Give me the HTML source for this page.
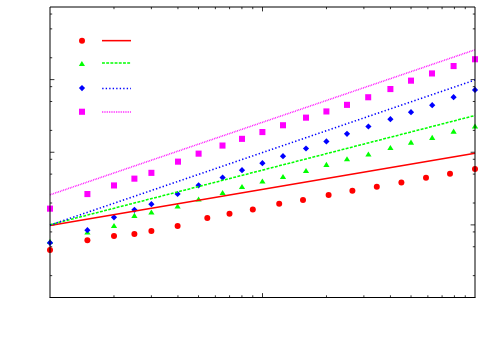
<!DOCTYPE html><html><head><meta charset="utf-8"><style>html,body{margin:0;padding:0;background:#fff;font-family:"Liberation Sans",sans-serif}svg{display:block}</style></head><body>
<svg width="500" height="350" viewBox="0 0 500 350">
<rect width="500" height="350" fill="#fff"/>
<path d="M113.97 297.5v-2.2M113.97 7.0v2.2M151.39 297.5v-2.2M151.39 7.0v2.2M177.94 297.5v-2.2M177.94 7.0v2.2M198.53 297.5v-2.2M198.53 7.0v2.2M215.36 297.5v-2.2M215.36 7.0v2.2M229.58 297.5v-2.2M229.58 7.0v2.2M241.91 297.5v-2.2M241.91 7.0v2.2M252.78 297.5v-2.2M252.78 7.0v2.2M262.50 297.5v-4.4M262.50 7.0v4.4M326.47 297.5v-2.2M326.47 7.0v2.2M363.89 297.5v-2.2M363.89 7.0v2.2M390.44 297.5v-2.2M390.44 7.0v2.2M411.03 297.5v-2.2M411.03 7.0v2.2M427.86 297.5v-2.2M427.86 7.0v2.2M442.08 297.5v-2.2M442.08 7.0v2.2M454.41 297.5v-2.2M454.41 7.0v2.2M465.28 297.5v-2.2M465.28 7.0v2.2M50.0 275.64h2.2M475.0 275.64h-2.2M50.0 246.74h2.2M475.0 246.74h-2.2M50.0 231.91h2.2M475.0 231.91h-2.2M50.0 224.88h4.4M475.0 224.88h-4.4M50.0 203.01h2.2M475.0 203.01h-2.2M50.0 174.11h2.2M475.0 174.11h-2.2M50.0 159.29h2.2M475.0 159.29h-2.2M50.0 152.25h4.4M475.0 152.25h-4.4M50.0 130.39h2.2M475.0 130.39h-2.2M50.0 101.49h2.2M475.0 101.49h-2.2M50.0 86.66h2.2M475.0 86.66h-2.2M50.0 79.62h4.4M475.0 79.62h-4.4M50.0 57.76h2.2M475.0 57.76h-2.2M50.0 28.86h2.2M475.0 28.86h-2.2M50.0 14.04h2.2M475.0 14.04h-2.2" stroke="#000" fill="none" stroke-width="0.8"/>
<g>
<circle cx="50" cy="250.1" r="3.0" fill="#f00"/>
<circle cx="87.4" cy="240.29999999999998" r="3.0" fill="#f00"/>
<circle cx="114" cy="236.1" r="3.0" fill="#f00"/>
<circle cx="134.4" cy="233.9" r="3.0" fill="#f00"/>
<circle cx="151.4" cy="231.1" r="3.0" fill="#f00"/>
<circle cx="177.6" cy="226.1" r="3.0" fill="#f00"/>
<circle cx="207.3" cy="218.0" r="3.0" fill="#f00"/>
<circle cx="229.5" cy="213.79999999999998" r="3.0" fill="#f00"/>
<circle cx="252.8" cy="209.5" r="3.0" fill="#f00"/>
<circle cx="279.2" cy="203.7" r="3.0" fill="#f00"/>
<circle cx="303" cy="200.1" r="3.0" fill="#f00"/>
<circle cx="328.6" cy="194.9" r="3.0" fill="#f00"/>
<circle cx="352.4" cy="190.7" r="3.0" fill="#f00"/>
<circle cx="376.8" cy="186.7" r="3.0" fill="#f00"/>
<circle cx="401.4" cy="182.5" r="3.0" fill="#f00"/>
<circle cx="426" cy="177.7" r="3.0" fill="#f00"/>
<circle cx="450" cy="173.7" r="3.0" fill="#f00"/>
<circle cx="475" cy="169.1" r="3.0" fill="#f00"/>
<path d="M46.9 243.9L53.1 243.9L50 238.8Z" fill="#0f0"/>
<path d="M84.30000000000001 234.6L90.5 234.6L87.4 229.5Z" fill="#0f0"/>
<path d="M110.9 228.0L117.1 228.0L114 222.9Z" fill="#0f0"/>
<path d="M131.3 217.9L137.5 217.9L134.4 212.8Z" fill="#0f0"/>
<path d="M148.3 214.5L154.5 214.5L151.4 209.4Z" fill="#0f0"/>
<path d="M174.5 208.5L180.7 208.5L177.6 203.4Z" fill="#0f0"/>
<path d="M195.5 201.5L201.7 201.5L198.6 196.4Z" fill="#0f0"/>
<path d="M219.5 195.0L225.7 195.0L222.6 189.9Z" fill="#0f0"/>
<path d="M238.9 189.1L245.1 189.1L242 184.0Z" fill="#0f0"/>
<path d="M259.29999999999995 183.5L265.5 183.5L262.4 178.4Z" fill="#0f0"/>
<path d="M279.9 179.1L286.1 179.1L283 174.0Z" fill="#0f0"/>
<path d="M302.9 173.0L309.1 173.0L306 167.9Z" fill="#0f0"/>
<path d="M323.29999999999995 166.9L329.5 166.9L326.4 161.8Z" fill="#0f0"/>
<path d="M343.9 161.3L350.1 161.3L347 156.20000000000002Z" fill="#0f0"/>
<path d="M365.29999999999995 156.5L371.5 156.5L368.4 151.4Z" fill="#0f0"/>
<path d="M387.29999999999995 150.0L393.5 150.0L390.4 144.9Z" fill="#0f0"/>
<path d="M407.9 144.7L414.1 144.7L411 139.6Z" fill="#0f0"/>
<path d="M429.09999999999997 139.9L435.3 139.9L432.2 134.8Z" fill="#0f0"/>
<path d="M450.5 133.7L456.70000000000005 133.7L453.6 128.6Z" fill="#0f0"/>
<path d="M471.9 128.5L478.1 128.5L475 123.4Z" fill="#0f0"/>
<path d="M46.9 242.79999999999998L50 239.7L53.1 242.79999999999998L50 245.89999999999998Z" fill="#00f"/>
<path d="M84.30000000000001 230.2L87.4 227.1L90.5 230.2L87.4 233.29999999999998Z" fill="#00f"/>
<path d="M110.9 217.29999999999998L114 214.2L117.1 217.29999999999998L114 220.39999999999998Z" fill="#00f"/>
<path d="M131.3 209.79999999999998L134.4 206.7L137.5 209.79999999999998L134.4 212.89999999999998Z" fill="#00f"/>
<path d="M148.3 204.2L151.4 201.1L154.5 204.2L151.4 207.29999999999998Z" fill="#00f"/>
<path d="M174.5 194.0L177.6 190.9L180.7 194.0L177.6 197.1Z" fill="#00f"/>
<path d="M195.5 185.29999999999998L198.6 182.2L201.7 185.29999999999998L198.6 188.39999999999998Z" fill="#00f"/>
<path d="M219.5 177.6L222.6 174.5L225.7 177.6L222.6 180.7Z" fill="#00f"/>
<path d="M238.9 170.2L242 167.1L245.1 170.2L242 173.29999999999998Z" fill="#00f"/>
<path d="M259.29999999999995 163.2L262.4 160.1L265.5 163.2L262.4 166.29999999999998Z" fill="#00f"/>
<path d="M279.9 156.2L283 153.1L286.1 156.2L283 159.29999999999998Z" fill="#00f"/>
<path d="M302.9 148.5L306 145.4L309.1 148.5L306 151.6Z" fill="#00f"/>
<path d="M323.29999999999995 141.39999999999998L326.4 138.29999999999998L329.5 141.39999999999998L326.4 144.49999999999997Z" fill="#00f"/>
<path d="M343.9 133.79999999999998L347 130.7L350.1 133.79999999999998L347 136.89999999999998Z" fill="#00f"/>
<path d="M365.29999999999995 126.5L368.4 123.4L371.5 126.5L368.4 129.6Z" fill="#00f"/>
<path d="M387.29999999999995 119.2L390.4 116.10000000000001L393.5 119.2L390.4 122.3Z" fill="#00f"/>
<path d="M407.9 112.2L411 109.10000000000001L414.1 112.2L411 115.3Z" fill="#00f"/>
<path d="M429.09999999999997 105.2L432.2 102.10000000000001L435.3 105.2L432.2 108.3Z" fill="#00f"/>
<path d="M450.5 97.2L453.6 94.10000000000001L456.70000000000005 97.2L453.6 100.3Z" fill="#00f"/>
<path d="M471.9 89.9L475 86.80000000000001L478.1 89.9L475 93.0Z" fill="#00f"/>
<rect x="47.00" y="205.60" width="6.0" height="6.1" fill="#f0f"/>
<rect x="84.40" y="191.00" width="6.0" height="6.1" fill="#f0f"/>
<rect x="111.00" y="182.40" width="6.0" height="6.1" fill="#f0f"/>
<rect x="131.40" y="175.60" width="6.0" height="6.1" fill="#f0f"/>
<rect x="148.40" y="169.80" width="6.0" height="6.1" fill="#f0f"/>
<rect x="175.00" y="158.60" width="6.0" height="6.1" fill="#f0f"/>
<rect x="195.60" y="150.60" width="6.0" height="6.1" fill="#f0f"/>
<rect x="219.50" y="142.50" width="6.0" height="6.1" fill="#f0f"/>
<rect x="239.00" y="135.80" width="6.0" height="6.1" fill="#f0f"/>
<rect x="259.40" y="129.00" width="6.0" height="6.1" fill="#f0f"/>
<rect x="280.00" y="122.20" width="6.0" height="6.1" fill="#f0f"/>
<rect x="303.00" y="114.60" width="6.0" height="6.1" fill="#f0f"/>
<rect x="323.40" y="108.40" width="6.0" height="6.1" fill="#f0f"/>
<rect x="344.00" y="101.80" width="6.0" height="6.1" fill="#f0f"/>
<rect x="365.20" y="94.20" width="6.0" height="6.1" fill="#f0f"/>
<rect x="387.40" y="86.00" width="6.0" height="6.1" fill="#f0f"/>
<rect x="408.00" y="77.60" width="6.0" height="6.1" fill="#f0f"/>
<rect x="429.00" y="70.40" width="6.0" height="6.1" fill="#f0f"/>
<rect x="450.60" y="63.00" width="6.0" height="6.1" fill="#f0f"/>
<rect x="472.00" y="56.20" width="6.0" height="6.1" fill="#f0f"/>
<circle cx="82.0" cy="40.85" r="3.0" fill="#f00"/>
<path d="M78.80000000000001 66.1L85.0 66.1L81.9 61.0Z" fill="#0f0"/>
<path d="M78.9 88.05L82.0 84.95L85.1 88.05L82.0 91.14999999999999Z" fill="#00f"/>
<rect x="79.00" y="108.70" width="6.0" height="6.1" fill="#f0f"/>
</g>
<g fill="none" stroke-width="1.55">
<path d="M50 225.6L475 153.2" stroke="#f00"/>
<path d="M50 224.7L475 115.5" stroke="#0f0" stroke-dasharray="2.9 1.4"/>
<path d="M50 225.1L475 80.0" stroke="#00f" stroke-dasharray="1.35 2.15"/>
<path d="M50 194.8L475 49.8" stroke="#f0f" stroke-dasharray="0.82 0.93"/>
<path d="M102 40.65H131" stroke="#f00"/>
<path d="M102 63H131" stroke="#0f0" stroke-dasharray="2.9 1.3"/>
<path d="M102.2 88.4H131" stroke="#00f" stroke-dasharray="1.35 2.15"/>
<path d="M102 112H131" stroke="#f0f" stroke-dasharray="0.82 0.93"/>
</g>
<g fill="none" stroke="#000" stroke-width="1">
<path d="M50.0 297.5V7.0H475.0V297.5" stroke-width="1"/>
<path d="M49.5 297.5H475.5"/>
</g>
</svg></body></html>
